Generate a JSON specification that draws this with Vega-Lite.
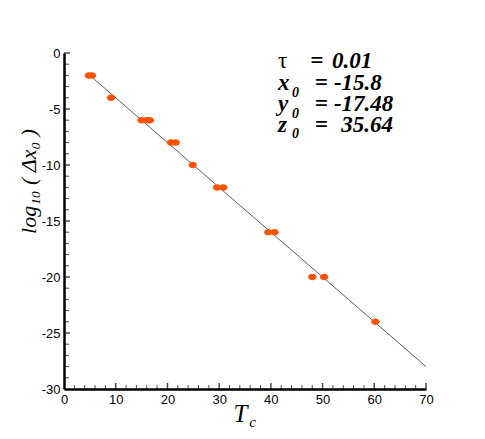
{
  "$schema": "https://vega.github.io/schema/vega-lite/v6.json",
  "width": 362,
  "height": 336,
  "autosize": {"type": "none"},
  "padding": {"left": 64, "top": 53, "right": 59, "bottom": 50},
  "background": "white",
  "config": {"view": {"stroke": null}},
  "datasets": {
    "pts": [
      {"T": 4.8, "L": -2}, {"T": 5.4, "L": -2}, {"T": 9.1, "L": -4},
      {"T": 15.0, "L": -6}, {"T": 16.0, "L": -6}, {"T": 16.6, "L": -6},
      {"T": 20.7, "L": -8}, {"T": 21.6, "L": -8}, {"T": 24.9, "L": -10},
      {"T": 29.6, "L": -12}, {"T": 30.8, "L": -12}, {"T": 39.5, "L": -16},
      {"T": 40.7, "L": -16}, {"T": 48.0, "L": -20}, {"T": 50.3, "L": -20},
      {"T": 60.2, "L": -24}
    ],
    "fit": [{"T": 5, "L": -2}, {"T": 70, "L": -28}],
    "xminor": [{"v":2},{"v":4},{"v":6},{"v":8},{"v":12},{"v":14},{"v":16},{"v":18},{"v":22},{"v":24},{"v":26},{"v":28},{"v":32},{"v":34},{"v":36},{"v":38},{"v":42},{"v":44},{"v":46},{"v":48},{"v":52},{"v":54},{"v":56},{"v":58},{"v":62},{"v":64},{"v":66},{"v":68}],
    "xmajor": [{"v":10},{"v":20},{"v":30},{"v":40},{"v":50},{"v":60},{"v":70}],
    "yminor": [{"v":-29},{"v":-28},{"v":-27},{"v":-26},{"v":-24},{"v":-23},{"v":-22},{"v":-21},{"v":-19},{"v":-18},{"v":-17},{"v":-16},{"v":-14},{"v":-13},{"v":-12},{"v":-11},{"v":-9},{"v":-8},{"v":-7},{"v":-6},{"v":-4},{"v":-3},{"v":-2},{"v":-1}],
    "ymajor": [{"v":-25},{"v":-20},{"v":-15},{"v":-10},{"v":-5},{"v":0}],
    "lab": [
      {"T": 41.4, "L": -3.3, "s": "x"}, {"T": 41.4, "L": -5.18, "s": "y"}, {"T": 41.4, "L": -7.05, "s": "z"},
      {"T": 47.6, "L": -1.34, "s": "="}, {"T": 48.5, "L": -3.3, "s": "="}, {"T": 48.5, "L": -5.18, "s": "="}, {"T": 48.5, "L": -7.05, "s": "="},
      {"T": 51.8, "L": -1.34, "s": "0.01"}, {"T": 52.2, "L": -3.3, "s": "-15.8"}, {"T": 52.2, "L": -5.18, "s": "-17.48"}, {"T": 53.6, "L": -7.05, "s": "35.64"}
    ],
    "tau": [{"T": 41.4, "L": -1.34, "s": "τ"}],
    "subs": [
      {"T": 44.1, "L": -3.93, "s": "0"}, {"T": 44.1, "L": -5.8, "s": "0"}, {"T": 44.1, "L": -7.6, "s": "0"}
    ],
    "xsub": [{"T": 35.8, "L": -33.4, "s": "c"}]
  },
  "layer": [
    {
      "data": {"name": "fit"},
      "mark": {"type": "line", "color": "#333333", "strokeWidth": 0.8},
      "encoding": {
        "x": {
          "field": "T", "type": "quantitative",
          "scale": {"domain": [0, 70], "nice": false, "zero": false},
          "axis": {
            "orient": "bottom",
            "values": [0, 10, 20, 30, 40, 50, 60, 70],
            "labelExpr": "'' + datum.value",
            "grid": false, "labelOverlap": false,
            "domainColor": "black", "domainWidth": 2.5,
            "ticks": false, "tickSize": 0,
            "labelFont": "Liberation Sans", "labelFontSize": 13, "labelColor": "black",
            "labelPadding": 4, "labelFlush": false,
            "title": "T",
            "titleFont": "Liberation Serif", "titleFontStyle": "italic", "titleFontWeight": "normal",
            "titleFontSize": 25, "titleColor": "black",
            "titleX": 176, "titleY": 32, "titleBaseline": "alphabetic", "titleAlign": "center"
          }
        },
        "y": {
          "field": "L", "type": "quantitative",
          "scale": {"domain": [-30, 0], "nice": false, "zero": false},
          "axis": {
            "orient": "left",
            "values": [-30, -25, -20, -15, -10, -5, 0],
            "labelExpr": "'' + datum.value",
            "grid": false, "labelOverlap": false,
            "domainColor": "black", "domainWidth": 2.5,
            "ticks": false, "tickSize": 0,
            "labelFont": "Liberation Sans", "labelFontSize": 13, "labelColor": "black",
            "labelPadding": 4, "labelFlush": false,
            "title": "log₁₀ ( Δx₀ )",
            "titleFont": "Liberation Serif", "titleFontStyle": "italic", "titleFontWeight": "normal",
            "titleFontSize": 22, "titleColor": "black",
            "titleX": -36, "titleY": 128, "titleAngle": -90, "titleAlign": "center", "titleBaseline": "middle"
          }
        }
      }
    },
    {
      "data": {"name": "xminor"},
      "mark": {"type": "tick", "orient": "vertical", "color": "black", "size": 4, "thickness": 1, "yOffset": -2},
      "encoding": {
        "x": {"field": "v", "type": "quantitative"},
        "y": {"datum": -30, "type": "quantitative"}
      }
    },
    {
      "data": {"name": "xmajor"},
      "mark": {"type": "tick", "orient": "vertical", "color": "black", "size": 6, "thickness": 1.5, "yOffset": -3},
      "encoding": {
        "x": {"field": "v", "type": "quantitative"},
        "y": {"datum": -30, "type": "quantitative"}
      }
    },
    {
      "data": {"name": "yminor"},
      "mark": {"type": "tick", "orient": "horizontal", "color": "black", "size": 5, "thickness": 1, "xOffset": 2.5},
      "encoding": {
        "x": {"datum": 0, "type": "quantitative"},
        "y": {"field": "v", "type": "quantitative"}
      }
    },
    {
      "data": {"name": "ymajor"},
      "mark": {"type": "tick", "orient": "horizontal", "color": "black", "size": 6, "thickness": 1.5, "xOffset": 3},
      "encoding": {
        "x": {"datum": 0, "type": "quantitative"},
        "y": {"field": "v", "type": "quantitative"}
      }
    },
    {
      "data": {"name": "pts"},
      "mark": {"type": "point", "filled": true, "opacity": 1, "color": "#ff5200", "size": 70,
               "shape": "M-1,0A1,0.78 0 1,0 1,0A1,0.78 0 1,0 -1,0Z"},
      "encoding": {
        "x": {"field": "T", "type": "quantitative"},
        "y": {"field": "L", "type": "quantitative"}
      }
    },
    {
      "data": {"name": "lab"},
      "mark": {"type": "text", "align": "left", "baseline": "alphabetic", "font": "Liberation Serif",
               "fontStyle": "italic", "fontWeight": "bold", "fontSize": 23, "color": "black"},
      "encoding": {
        "x": {"field": "T", "type": "quantitative"},
        "y": {"field": "L", "type": "quantitative"},
        "text": {"field": "s"}
      }
    },
    {
      "data": {"name": "tau"},
      "mark": {"type": "text", "align": "left", "baseline": "alphabetic", "font": "Liberation Serif",
               "fontSize": 23, "color": "black"},
      "encoding": {
        "x": {"field": "T", "type": "quantitative"},
        "y": {"field": "L", "type": "quantitative"},
        "text": {"field": "s"}
      }
    },
    {
      "data": {"name": "subs"},
      "mark": {"type": "text", "align": "left", "baseline": "alphabetic", "font": "Liberation Serif",
               "fontStyle": "italic", "fontWeight": "bold", "fontSize": 14, "color": "black"},
      "encoding": {
        "x": {"field": "T", "type": "quantitative"},
        "y": {"field": "L", "type": "quantitative"},
        "text": {"field": "s"}
      }
    },
    {
      "data": {"name": "xsub"},
      "mark": {"type": "text", "align": "left", "baseline": "alphabetic", "font": "Liberation Serif",
               "fontStyle": "italic", "fontSize": 15, "color": "black"},
      "encoding": {
        "x": {"field": "T", "type": "quantitative"},
        "y": {"field": "L", "type": "quantitative"},
        "text": {"field": "s"}
      }
    }
  ]
}
